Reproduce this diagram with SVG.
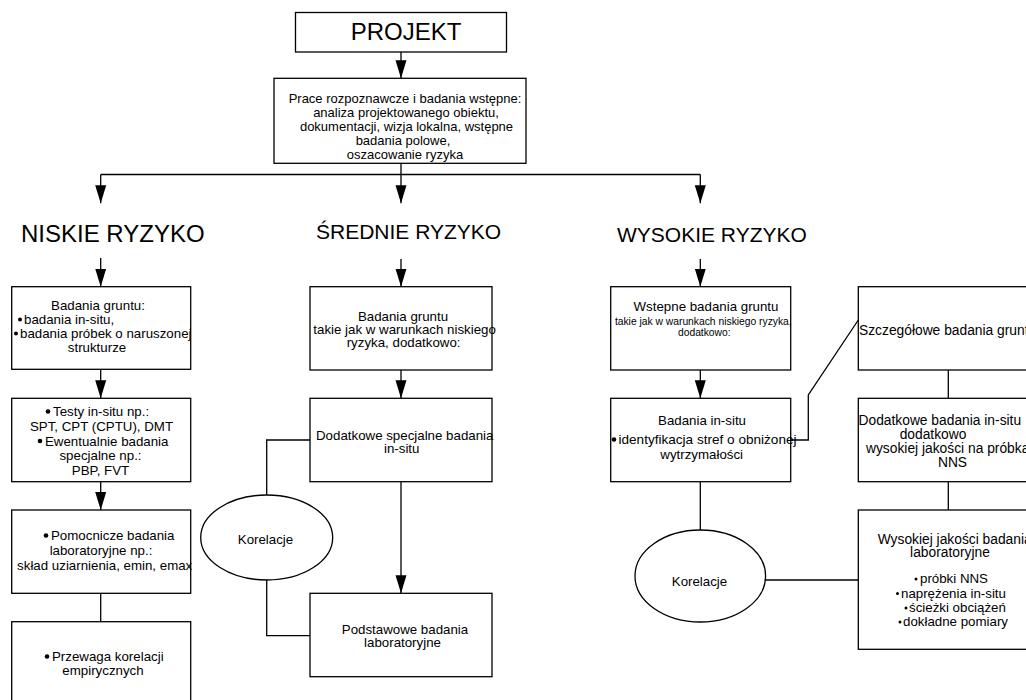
<svg xmlns="http://www.w3.org/2000/svg" width="1026" height="700" viewBox="0 0 1026 700">
  <style>
    .box { fill: #fff; stroke: #000; stroke-width: 1.3; }
    .ell { fill: #fff; stroke: #000; stroke-width: 1.3; }
    .conn { fill: none; stroke: #000; stroke-width: 1.3; }
    .arr { marker-end: url(#ah); }
    text { font-family: "Liberation Sans", Arial, sans-serif; font-size: 13.3px; fill: #000; }
    .m { text-anchor: middle; }
    .top { font-size: 13px; }
    .small { font-size: 10.3px; }
    .wide { font-size: 13.8px; }
    .title { font-size: 21px; }
    .big { font-size: 24px; }
    .dot { fill: #000; }
  </style>
  <defs>
    <marker id="ah" markerUnits="userSpaceOnUse" markerWidth="18" markerHeight="12" refX="18" refY="6" orient="auto">
      <path d="M0,0.5 L18,6 L0,11.5 z" fill="#000"/>
    </marker>
  </defs>
  <rect width="1026" height="700" fill="#fff"/>

  <!-- connectors -->
  <g id="connectors">
    <path class="conn arr" d="M401,52 V78.3"/>
    <path class="conn" d="M401,163.3 V174.5 M100.7,174.5 H700.3"/>
    <path class="conn arr" d="M100.7,174.5 V203.3"/>
    <path class="conn arr" d="M401,174.5 V203.3"/>
    <path class="conn arr" d="M700.3,174.5 V203.3"/>

    <path class="conn arr" d="M100.7,258 V286.7"/>
    <path class="conn arr" d="M100.7,369.3 V398.3"/>
    <path class="conn arr" d="M100.7,481.7 V510"/>
    <path class="conn" d="M100.7,593.3 V621.7"/>

    <path class="conn arr" d="M401,259 V286.7"/>
    <path class="conn arr" d="M401,370 V398.3"/>
    <path class="conn arr" d="M401,481.7 V593.3"/>
    <path class="conn" d="M310,440 H266.7 V495"/>
    <path class="conn" d="M266.7,580 V635.7 H310"/>

    <path class="conn arr" d="M700.3,259 V286.7"/>
    <path class="conn arr" d="M700.3,370 V398.3"/>
    <path class="conn" d="M700.3,481.7 V530"/>
    <path class="conn" d="M765.5,580 H858.3"/>
    <path class="conn" d="M790.7,440 H808.3 V395 L858.3,320"/>
    <path class="conn" d="M948.3,370 V398.3"/>
    <path class="conn" d="M948.3,481.7 V510"/>
  </g>

  <!-- top -->
  <g id="projekt">
    <rect class="box" x="295.5" y="12.5" width="211" height="39.5"/>
    <text class="big m" x="406" y="40">PROJEKT</text>
  </g>
  <g id="rozpoznanie">
    <rect class="box" x="274" y="78.3" width="252" height="85"/>
    <text class="top m" x="405" y="103">Prace rozpoznawcze i badania wstępne:</text>
    <text class="top m" x="406" y="117">analiza projektowanego obiektu,</text>
    <text class="top m" x="406.5" y="131">dokumentacji, wizja lokalna, wstępne</text>
    <text class="top m" x="403" y="145">badania polowe,</text>
    <text class="top m" x="405" y="159">oszacowanie ryzyka</text>
  </g>

  <!-- risk levels -->
  <g id="niskie-ryzyko">
    <text class="big" x="21" y="242">NISKIE RYZYKO</text>
  </g>
  <g id="srednie-ryzyko">
    <text class="title" x="316" y="239">ŚREDNIE RYZYKO</text>
  </g>
  <g id="wysokie-ryzyko">
    <text class="title" x="617" y="242">WYSOKIE RYZYKO</text>
  </g>

  <!-- low risk column -->
  <g id="niskie-badania-gruntu">
    <rect class="box" x="11.7" y="286.7" width="179" height="82.6"/>
    <text class="m" x="98" y="310">Badania gruntu:</text>
    <circle class="dot" cx="20" cy="319.5" r="2"/>
    <text x="24" y="324">badania in-situ,</text>
    <circle class="dot" cx="16" cy="333.5" r="2"/>
    <text x="20" y="338">badania próbek o naruszonej</text>
    <text class="m" x="97" y="352">strukturze</text>
  </g>
  <g id="niskie-testy">
    <rect class="box" x="11.7" y="398.3" width="179" height="83.4"/>
    <circle class="dot" cx="48" cy="411.5" r="2.3"/>
    <text x="53" y="416">Testy in-situ np.:</text>
    <text class="m" x="101.5" y="431">SPT, CPT (CPTU), DMT</text>
    <circle class="dot" cx="40" cy="441" r="2.3"/>
    <text x="45" y="445.5">Ewentualnie badania</text>
    <text class="m" x="100.5" y="460">specjalne np.:</text>
    <text class="m" x="100.5" y="474.5">PBP, FVT</text>
  </g>
  <g id="niskie-laboratorium">
    <rect class="box" x="11.7" y="510" width="179" height="83.3"/>
    <circle class="dot" cx="46" cy="535.5" r="2.3"/>
    <text x="51" y="540">Pomocnicze badania</text>
    <text class="m" x="101" y="555">laboratoryjne np.:</text>
    <text class="m" x="104.7" y="570">skład uziarnienia, emin, emax</text>
  </g>
  <g id="niskie-korelacje">
    <rect class="box" x="11.7" y="621.7" width="179" height="90"/>
    <circle class="dot" cx="47" cy="656.5" r="2.3"/>
    <text x="52" y="661">Przewaga korelacji</text>
    <text class="m" x="103" y="675">empirycznych</text>
  </g>

  <!-- medium risk column -->
  <g id="srednie-badania-gruntu">
    <rect class="box" x="310" y="286.7" width="182" height="83.3"/>
    <text class="m" x="403" y="321">Badania gruntu</text>
    <text x="313.3" y="334">takie jak w warunkach niskiego</text>
    <text x="346.7" y="347">ryzyka, dodatkowo:</text>
  </g>
  <g id="srednie-in-situ">
    <rect class="box" x="310" y="398.3" width="182" height="83.4"/>
    <text x="316" y="439.5">Dodatkowe specjalne badania</text>
    <text class="m" x="401.7" y="453">in-situ</text>
  </g>
  <g id="srednie-korelacje">
    <ellipse class="ell" cx="266.7" cy="537.5" rx="66" ry="42.5"/>
    <text class="m" x="265.5" y="544">Korelacje</text>
  </g>
  <g id="srednie-laboratorium">
    <rect class="box" x="310" y="593.3" width="182" height="83.4"/>
    <text class="m" x="405" y="633.5">Podstawowe badania</text>
    <text class="m" x="402.5" y="647">laboratoryjne</text>
  </g>

  <!-- high risk column -->
  <g id="wysokie-wstepne">
    <rect class="box" x="610.7" y="286.7" width="180" height="83.3"/>
    <text class="m" x="706" y="311">Wstepne badania gruntu</text>
    <text class="small m" x="703.3" y="325">takie jak w warunkach niskiego ryzyka,</text>
    <text class="small m" x="704.3" y="335.5">dodatkowo:</text>
  </g>
  <g id="wysokie-in-situ">
    <rect class="box" x="610.7" y="398.3" width="180" height="83.4"/>
    <text class="m" x="702" y="424.5">Badania in-situ</text>
    <circle class="dot" cx="614" cy="439.5" r="2.3"/>
    <text x="618.5" y="444" textLength="178" lengthAdjust="spacingAndGlyphs">identyfikacja stref o obniżonej</text>
    <text class="m" x="701.7" y="459">wytrzymałości</text>
  </g>
  <g id="wysokie-korelacje">
    <ellipse class="ell" cx="700.3" cy="576" rx="65.3" ry="46"/>
    <text class="m" x="699.5" y="586">Korelacje</text>
  </g>
  <g id="wysokie-szczegolowe">
    <rect class="box" x="858.3" y="286.7" width="182" height="83.3"/>
    <text class="wide" x="859" y="334.5">Szczegółowe badania gruntu</text>
  </g>
  <g id="wysokie-dodatkowe">
    <rect class="box" x="858.3" y="398.3" width="182" height="83.4"/>
    <text class="wide" x="858.5" y="424.5">Dodatkowe badania in-situ</text>
    <text class="wide m" x="933" y="439">dodatkowo</text>
    <text class="wide" x="866" y="453">wysokiej jakości na próbkach</text>
    <text class="wide m" x="952.5" y="467">NNS</text>
  </g>
  <g id="wysokie-laboratorium">
    <rect class="box" x="858.3" y="510" width="182" height="139.3"/>
    <text class="wide" x="877.7" y="543.5">Wysokiej jakości badania</text>
    <text class="wide m" x="950" y="557">laboratoryjne</text>
    <circle class="dot" cx="916" cy="579" r="1.5"/>
    <text x="920" y="583">próbki NNS</text>
    <circle class="dot" cx="897.5" cy="593.5" r="1.5"/>
    <text x="901" y="597.5">naprężenia in-situ</text>
    <circle class="dot" cx="906" cy="608" r="1.5"/>
    <text x="909" y="612">ścieżki obciążeń</text>
    <circle class="dot" cx="900" cy="622" r="1.5"/>
    <text x="903" y="626">dokładne pomiary</text>
  </g>
</svg>
